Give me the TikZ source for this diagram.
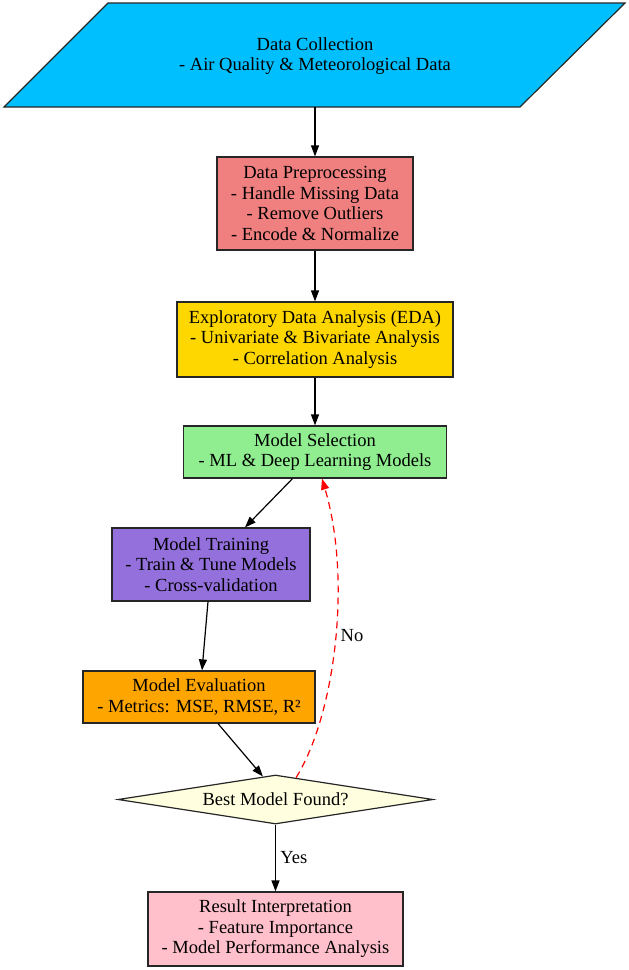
\documentclass[tikz,border=0pt]{standalone}
\usepackage{fontspec}
\setmainfont{Liberation Serif}
\usetikzlibrary{arrows.meta,shapes.geometric,calc}
\definecolor{cdc}{HTML}{00BFFF}
\definecolor{cpre}{HTML}{F08080}
\definecolor{ceda}{HTML}{FFD700}
\definecolor{cms}{HTML}{90EE90}
\definecolor{cmt}{HTML}{9370DB}
\definecolor{cme}{HTML}{FFA500}
\definecolor{cdia}{HTML}{FFFFE0}
\definecolor{cri}{HTML}{FFC0CB}
\begin{document}
\begin{tikzpicture}[x=1pt,y=-1pt,
  txt/.style={font=\fontsize{18.5}{20.5}\selectfont,align=center},
  box/.style={txt,draw=black!85,line width=1.2pt,inner sep=0pt},
  arr/.style={draw=black,line width=1.2pt,-{Triangle[length=11pt,width=8pt]}},
  noarr/.style={draw=red,line width=1.2pt,dash pattern=on 7pt off 5pt,-{Triangle[length=11pt,width=8pt]}}]
\useasboundingbox (0,0) rectangle (629,970);
% Data collection parallelogram
\draw[fill=cdc,draw=black!85,line width=1.2pt] (108,3) -- (625,3) -- (520,107) -- (4,107) -- cycle;
\node[txt] (dc) at (315,56) {Data Collection\\- Air Quality \& Meteorological Data};
\coordinate (dcs) at (315,107);
\node[box,fill=cpre,minimum width=196pt,minimum height=93pt] (pre) at (315,203.5)
  {Data Preprocessing\\- Handle Missing Data\\- Remove Outliers\\- Encode \& Normalize};
\node[box,fill=ceda,minimum width=276pt,minimum height=75pt] (eda) at (315,339.5)
  {Exploratory Data Analysis (EDA)\\- Univariate \& Bivariate Analysis\\- Correlation Analysis};
\node[box,fill=cms,minimum width=263pt,minimum height=52pt] (ms) at (315,452)
  {Model Selection\\- ML \& Deep Learning Models};
\node[box,fill=cmt,minimum width=198pt,minimum height=73pt] (mt) at (211,564.5)
  {Model Training\\- Train \& Tune Models\\- Cross-validation};
\node[box,fill=cme,minimum width=232pt,minimum height=52pt] (me) at (199,697)
  {Model Evaluation\\- Metrics: MSE, RMSE, R²};
\node[box,diamond,aspect=6.4,fill=cdia,minimum width=315pt,minimum height=49pt] (dia) at (275.5,799.5)
  {Best Model Found?};
\node[box,fill=cri,minimum width=255pt,minimum height=74pt] (ri) at (275.5,929)
  {Result Interpretation\\- Feature Importance\\- Model Performance Analysis};
% connectors
\draw[arr] (dcs) -- (pre.north);
\draw[arr] (pre.south) -- (eda.north);
\draw[arr] (eda.south) -- (ms.north);
\draw[arr] ([xshift=-22.5pt]ms.south) -- ([xshift=34pt]mt.north);
\draw[arr] ([xshift=-3pt]mt.south) -- ([xshift=3pt]me.north);
\draw[arr] ([xshift=19pt]me.south) -- ($(dia.north)!0.08!(dia.west)$);
\draw[arr] (dia.south) -- node[txt,right,pos=0.5,xshift=1pt] (yes) {Yes} (ri.north);
\draw[noarr] ($(dia.north)!0.13!(dia.east)$) .. controls (335,715) and (352,580) .. ([xshift=7pt]ms.south);
\node[txt] (no) at (352,636) {No};
\end{tikzpicture}
\end{document}
